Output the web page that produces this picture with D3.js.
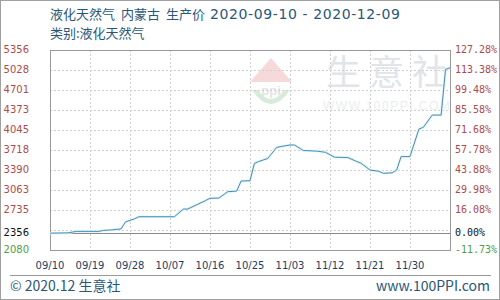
<!DOCTYPE html>
<html>
<head>
<meta charset="utf-8">
<script src="https://cdn.jsdelivr.net/npm/d3@7"></script>
<style>
  body { margin: 0; background: #fff; }
  svg { display: block; }
</style>
</head>
<body>
<div id="chart"></div>
<script>
// price readings (date, yuan/ton)
var dates = ["2020-09-10","2020-09-14","2020-09-16","2020-09-21","2020-09-22","2020-09-24","2020-09-26",
  "2020-09-27","2020-09-29","2020-09-30","2020-10-08","2020-10-10","2020-10-11","2020-10-13","2020-10-15",
  "2020-10-16","2020-10-18","2020-10-20","2020-10-22","2020-10-23","2020-10-25","2020-10-26","2020-10-27",
  "2020-10-29","2020-10-31","2020-11-01","2020-11-03","2020-11-04","2020-11-06","2020-11-09","2020-11-11",
  "2020-11-13","2020-11-16","2020-11-18","2020-11-19","2020-11-21","2020-11-23","2020-11-24","2020-11-26",
  "2020-11-27","2020-11-28","2020-11-30","2020-12-02","2020-12-03","2020-12-05","2020-12-07","2020-12-08","2020-12-09"];
var prices = [2356,2360,2385,2385,2400,2410,2425,
  2540,2590,2625,2625,2750,2752,2820,2890,
  2927,2930,3035,3045,3210,3215,3500,3530,
  3580,3760,3775,3800,3800,3710,3700,3680,
  3600,3595,3530,3500,3390,3370,3336,3345,
  3390,3610,3610,4060,4090,4290,4290,5040,5065];

var leftTicks = [5356,5028,4701,4373,4045,3718,3390,3063,2735,2356,2080];
var rightTicks = ["127.28%","113.38%","99.48%","85.58%","71.68%","57.78%","43.88%","29.98%","16.08%","0.00%","-11.73%"];
var xTicks = ["2020-09-10","2020-09-19","2020-09-28","2020-10-07","2020-10-16","2020-10-25","2020-11-03","2020-11-12","2020-11-21","2020-11-30"];

var titleParts = ["液化天然气", "内蒙古", "生产价"];
var titleDates = "2020-09-10 - 2020-12-09";
var subtitle = "类别:液化天然气";

var width = 500, height = 300;
var margin = { top: 50, left: 50, right: 50, bottom: 50 };
var parse = d3.timeParse("%Y-%m-%d");
var base = 2356;
var textColor = "#2a5778";

var svg = d3.select("#chart").append("svg")
  .attr("width", width)
  .attr("height", height);

svg.append("rect")
  .attr("x", 0.5).attr("y", 0.5)
  .attr("width", width - 1).attr("height", height - 1)
  .attr("fill", "#fff").attr("stroke", "#a0a0a0");

var x = d3.scaleTime()
  .domain([parse("2020-09-10"), parse("2020-12-09")])
  .range([margin.left, width - margin.right]);

var y = d3.scaleLinear()
  .domain([2080, 5356])
  .range([height - margin.bottom, margin.top]);

// watermark
var wm = svg.append("g");
wm.append("path")
  .attr("d", "M250,82 L271,58 L292,82 Z")
  .attr("fill", "#f6d9d9");
wm.append("path")
  .attr("d", "M252,90 Q271,118 290,90 L284,90 Q271,108 258,90 Z")
  .attr("fill", "#d6ecd8");
wm.append("text")
  .attr("x", 271).attr("y", 95)
  .attr("text-anchor", "middle")
  .attr("font-family", "Arial, sans-serif")
  .attr("font-size", 13).attr("font-weight", "bold")
  .attr("fill", "#e4e4e4")
  .text("ppi");
wm.append("text")
  .attr("x", 326).attr("y", 85)
  .attr("font-family", "Noto Sans CJK SC")
  .attr("font-size", 35)
  .attr("letter-spacing", 8)
  .attr("fill", "#e1e5e9")
  .text("生意社");
wm.append("text")
  .attr("x", 323).attr("y", 110)
  .attr("font-family", "Arial, sans-serif")
  .attr("font-size", 12)
  .attr("letter-spacing", 1.5)
  .attr("fill", "#eaedf0")
  .text("WWW.100PPI.COM");

// grid
var gridVals = d3.range(11).map(function(i) { return 2080 + i * (5356 - 2080) / 10; });
svg.selectAll(".hgrid")
  .data(gridVals.slice(1, 10))
  .enter().append("line")
  .attr("x1", margin.left).attr("x2", width - margin.right)
  .attr("y1", function(d) { return Math.round(y(d)) + 0.5; })
  .attr("y2", function(d) { return Math.round(y(d)) + 0.5; })
  .attr("stroke", "#cfcfcf")
  .attr("stroke-dasharray", "2,2");

svg.selectAll(".vgrid")
  .data(xTicks.slice(1))
  .enter().append("line")
  .attr("x1", function(d) { return Math.round(x(parse(d))) + 0.5; })
  .attr("x2", function(d) { return Math.round(x(parse(d))) + 0.5; })
  .attr("y1", margin.top).attr("y2", height - margin.bottom)
  .attr("stroke", "#cfcfcf")
  .attr("stroke-dasharray", "2,2");

// base line
svg.append("line")
  .attr("x1", margin.left).attr("x2", width - margin.right)
  .attr("y1", Math.round(y(base)) + 0.5).attr("y2", Math.round(y(base)) + 0.5)
  .attr("stroke", "#8a8a8a");

// frame
svg.append("rect")
  .attr("x", margin.left + 0.5).attr("y", margin.top + 0.5)
  .attr("width", width - margin.left - margin.right)
  .attr("height", height - margin.bottom - margin.top)
  .attr("fill", "none").attr("stroke", "#999");

// price line
var line = d3.line()
  .x(function(d, i) { return x(parse(dates[i])); })
  .y(function(d) { return y(d); });

svg.append("path")
  .datum(prices)
  .attr("d", line)
  .attr("fill", "none")
  .attr("stroke", "#def3fa")
  .attr("stroke-width", 2.5);

svg.append("path")
  .datum(prices)
  .attr("d", line)
  .attr("fill", "none")
  .attr("stroke", "#4a8db3")
  .attr("stroke-width", 1);

// y labels
function tickColor(i) {
  if (i == leftTicks.length - 1) return "#4f9d45";
  if (i == leftTicks.length - 2) return "#111";
  return "#b04a4a";
}

svg.selectAll(".lt")
  .data(leftTicks)
  .enter().append("text")
  .attr("x", 29)
  .attr("y", function(d) { return y(d) + 3; })
  .attr("text-anchor", "end")
  .attr("font-family", "DejaVu Sans, sans-serif")
  .attr("font-size", 10)
  .attr("fill", function(d, i) { return tickColor(i); })
  .text(function(d) { return d; });

svg.selectAll(".rt")
  .data(rightTicks)
  .enter().append("text")
  .attr("x", 455)
  .attr("y", function(d, i) { return y(leftTicks[i]) + 3; })
  .attr("font-family", "DejaVu Sans Mono, monospace")
  .attr("font-size", 10)
  .attr("fill", function(d, i) { return tickColor(i); })
  .text(function(d) { return d; });

// x labels
svg.selectAll(".xt")
  .data(xTicks)
  .enter().append("text")
  .attr("x", function(d) { return x(parse(d)); })
  .attr("y", 269)
  .attr("text-anchor", "middle")
  .attr("font-family", "DejaVu Sans, sans-serif")
  .attr("font-size", 10)
  .attr("fill", "#1c3d66")
  .text(function(d) { return d3.timeFormat("%m/%d")(parse(d)); });

// titles
var t = svg.append("text")
  .attr("x", 50).attr("y", 19)
  .attr("font-family", "Noto Sans CJK SC")
  .attr("font-size", 13)
  .attr("fill", textColor);
titleParts.forEach(function(p, i) {
  t.append("tspan").attr("dx", i ? 6 : 0).text(p);
});
t.append("tspan")
  .attr("dx", 5)
  .attr("font-family", "DejaVu Sans, sans-serif")
  .attr("font-size", 14)
  .attr("letter-spacing", 0.6)
  .text(titleDates);

svg.append("text")
  .attr("x", 50).attr("y", 38)
  .attr("font-family", "Noto Sans CJK SC")
  .attr("font-size", 13)
  .attr("fill", textColor)
  .text(subtitle);

// footer
svg.append("line")
  .attr("x1", 10).attr("x2", 491)
  .attr("y1", 275.5).attr("y2", 275.5)
  .attr("stroke", "#999");

svg.append("text")
  .attr("x", 10).attr("y", 291)
  .attr("font-family", "Noto Sans CJK SC")
  .attr("font-size", 14)
  .attr("fill", textColor)
  .text("© 2020.12 生意社");

svg.append("text")
  .attr("x", 490).attr("y", 291)
  .attr("text-anchor", "end")
  .attr("font-family", "Noto Sans CJK SC")
  .attr("font-size", 14)
  .attr("fill", textColor)
  .text("www.100PPI.com");
</script>
</body>
</html>
